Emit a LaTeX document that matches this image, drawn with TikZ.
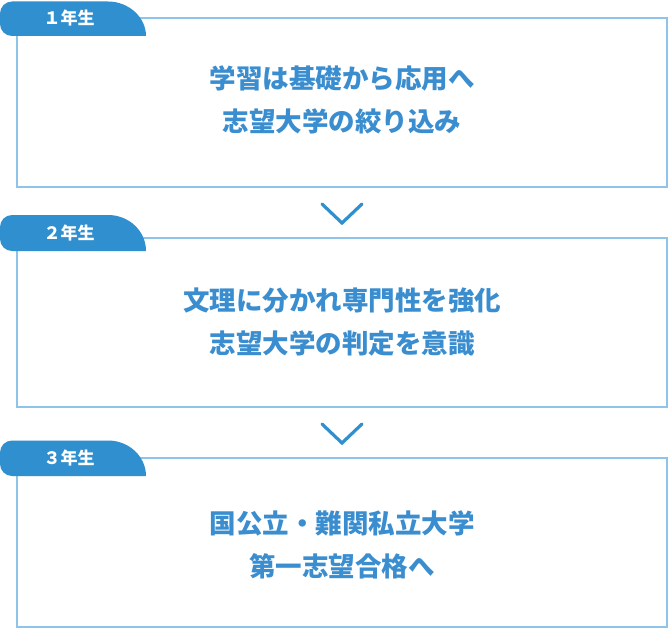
\documentclass[tikz,border=0pt]{standalone}
\usepackage{fontspec}
\newfontfamily\cjk{Noto Sans CJK JP}
\definecolor{tabblue}{HTML}{2F8FCF}
\definecolor{txtblue}{HTML}{3A8ED0}
\definecolor{edgeblue}{HTML}{8EC4EA}
\begin{document}
\begin{tikzpicture}[x=1pt,y=-1pt,
  stagebox/.style={draw=edgeblue,line width=1.4pt,fill=white,minimum width=650pt,minimum height=169pt,inner sep=0pt},
  stagetext/.style={text=txtblue,align=center,font=\cjk\bfseries\fontsize{26.5}{43}\selectfont},
  tablabel/.style={text=white,font=\cjk\bfseries\fontsize{17}{19}\selectfont},
  chev/.style={draw=tabblue,line width=3.2pt,line cap=round,line join=miter},
  tabshape/.style={fill=tabblue}]
\useasboundingbox (0,0) rectangle (668,628);
\fill[white] (0,0) rectangle (668,628);
% boxes
\node[stagebox] (b1) at (342,102.5) {};
\node[stagebox] (b2) at (342,322.5) {};
\node[stagebox] (b3) at (342,542.5) {};
% tabs
\foreach \t/\b in {1.5/36, 215/251, 440.5/476}{
  \fill[tabshape] (146,\b) -- (12,\b) .. controls (5.4,\b) and (0,\b-5.4) .. (0,\b-12) -- (0,\t+12) .. controls (0,\t+5.4) and (5.4,\t) .. (12,\t) -- (108,\t) .. controls (129,\t) and (146,\t+16) .. (146,\b) -- cycle;
}
\node[tablabel] (l1) at (69,18.5) {１年生};
\node[tablabel] (l2) at (69,233) {２年生};
\node[tablabel] (l3) at (69,458) {３年生};
% texts
\node[stagetext] (t1) at (342,100) {学習は基礎から応用へ\\志望大学の絞り込み};
\node[stagetext] (t2) at (342,322) {文理に分かれ専門性を強化\\志望大学の判定を意識};
\node[stagetext] (t3) at (342,545) {国公立・難関私立大学\\第一志望合格へ};
% chevrons
\coordinate (c1l) at (322,204);
\coordinate (c1m) at (342,223);
\coordinate (c1r) at (362,204);
\draw[chev] (c1l) -- (c1m) -- (c1r);
\coordinate (c2l) at (322,424);
\coordinate (c2m) at (342,443);
\coordinate (c2r) at (362,424);
\draw[chev] (c2l) -- (c2m) -- (c2r);
\end{tikzpicture}
\end{document}
